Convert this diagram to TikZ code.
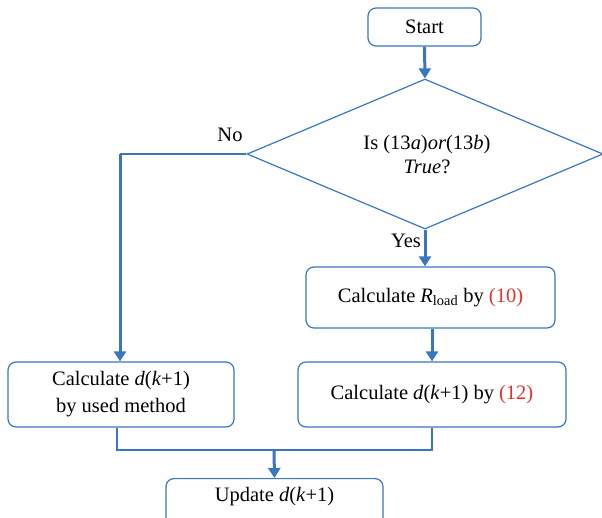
\documentclass[tikz,border=0pt]{standalone}
\usepackage{fontspec}
\setmainfont{Liberation Serif}
\usetikzlibrary{shapes.geometric,arrows.meta}
\definecolor{flowblue}{HTML}{3A75C0}
\definecolor{refred}{HTML}{E8302A}
\begin{document}
\begin{tikzpicture}[x=1pt,y=-1pt,
  box/.style={draw=flowblue,line width=1.2pt,rounded corners=8pt,align=center,
    font=\fontsize{20.5}{27}\selectfont,inner sep=0pt},
  flow/.style={draw=flowblue,line width=1.2pt},
  flowarrow/.style={draw=flowblue,line width=3pt,-{Triangle[length=10pt,width=12pt]}},
  lbl/.style={font=\fontsize{20.5}{24}\selectfont}]
\useasboundingbox (0,0) rectangle (602,517);
\begin{scope}
\clip (0,0) rectangle (602,517);
% nodes
\node[box,minimum width=113pt,minimum height=38pt] (start) at (424.5,27) {Start};
\node[draw=flowblue,line width=1.2pt,diamond,aspect=2.39,minimum width=356pt,minimum height=150pt,inner sep=0pt] (cond) at (425,154) {};
\node[font=\fontsize{20.5}{24}\selectfont,align=center] (condtxt) at (427,155) {Is (13\textit{a})\textit{or}(13\textit{b})\\\textit{True}?};
\node[box,minimum width=226pt,minimum height=65pt] (used) at (121,394.5) {Calculate \textit{d}(\textit{k}+1)\\by used method};
\node[box,minimum width=249pt,minimum height=61pt] (rload) at (430.5,297.5) {Calculate \textit{R}\textsubscript{load} by \textcolor{refred}{(10)}};
\node[box,minimum width=268pt,minimum height=65pt] (dk) at (432,394.5) {Calculate \textit{d}(\textit{k}+1) by \textcolor{refred}{(12)}};
\node[box,minimum width=217pt,minimum height=52pt,anchor=north] (upd) at (274.5,478) {};
\node[lbl] (updtxt) at (274.5,497) {Update \textit{d}(\textit{k}+1)};
\node[lbl] (no) at (230,135) {No};
\node[lbl] (yes) at (406,241) {Yes};
\coordinate (nocorner) at (120,154);
\coordinate (join) at (274,450);
% connectors
\draw[flowarrow] (start.south) -- (cond.north);
\draw[flow] (cond.west) -- (nocorner);
\draw[flowarrow] (nocorner) -- ([xshift=-1pt]used.north);
\draw[flowarrow] (cond.south) -- (rload.north -| cond.south);
\draw[flowarrow] (rload.south -| dk.north) -- (dk.north);
\draw[flow] ([xshift=-4pt]used.south) |- (join) -| (dk.south);
\draw[flowarrow] (join) -- (upd.north);
\end{scope}
\end{tikzpicture}
\end{document}
